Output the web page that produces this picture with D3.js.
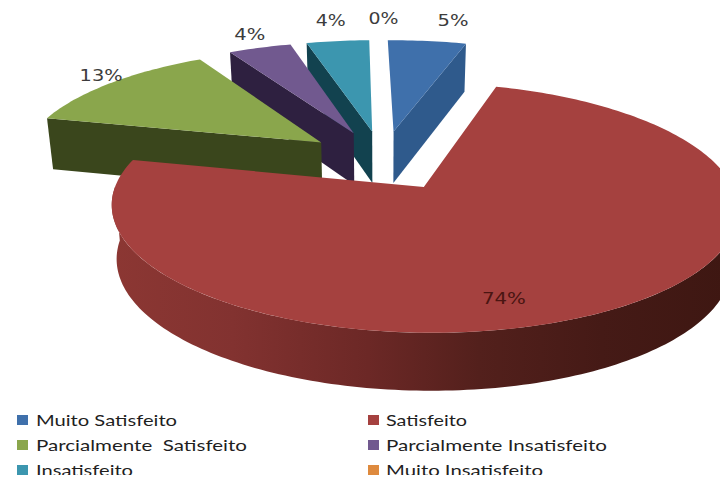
<!DOCTYPE html>
<html lang="pt">
<head>
<meta charset="utf-8">
<title>Satisfação</title>
<script src="https://cdn.jsdelivr.net/npm/d3@7/dist/d3.min.js"></script>
<style>
  html, body { margin: 0; padding: 0; background: #fff; overflow: hidden; }
  svg { display: block; }
</style>
</head>
<body>
<svg id="chart" width="720" height="478"></svg>
<script>
// Survey results
const categories = ["Muito Satisfeito", "Satisfeito", "Parcialmente  Satisfeito",
                    "Parcialmente Insatisfeito", "Insatisfeito", "Muito Insatisfeito"];
const values = [5, 74, 13, 4, 4, 0];

// Colours: top face, side face
const topColors  = ["#3f70ab", "#a5413f", "#8aa64c", "#71598f", "#3c96af", "#de8a3e"];
const sideColors = ["#2f5a8c", "#7c2f2c", "#3a461c", "#2e2040", "#12424f", "#8a5020"];

// Label offsets from each slice's outer midpoint, and widths of drawn text
const labelNudge = [[26, -20], [-106, -12], [-10, -7], [-10, -13], [-7, -20], [6, -21]];
const labelWidth = [31, 44, 43, 31, 30, 30];

// Slice radius in disc units
const sliceRadius = [1, 0.985, 1, 1, 1, 1];

// Tilted pie: disc coordinates (unit radius) to screen, with perspective
const W = 720, H = 478;
const view = { cx: 383, cy: 160, A: 302, B: 114.5, k: 0.162 };
const firstAngle = -1 * Math.PI / 180;
const explode = 0.262;
const depth = { size: 52.6, k: 0.077 };
const baseShrink = 0.982;

function project(X, Y) {
  const den = 1 + view.k * Y;
  return [view.cx + view.A * X / den, view.cy - view.B * Y / den];
}
function projectBase(X, Y) {
  const [x, y] = project(X, Y);
  return [view.cx + (x - view.cx) * baseShrink, y + depth.size / (1 + depth.k * Y)];
}

const TAU = 2 * Math.PI;
const pie = d3.pie().sort(null).value(d => d)
  .startAngle(firstAngle).endAngle(firstAngle + TAU)(values);

const slices = pie.map((p, i) => {
  const mid = (p.startAngle + p.endAngle) / 2;
  const ox = explode * Math.sin(mid), oy = explode * Math.cos(mid);
  const r = sliceRadius[i];
  const disc = (t, a) => [ox + t * r * Math.sin(a), oy + t * r * Math.cos(a)];
  return { i, a0: p.startAngle, a1: p.endAngle, mid, disc, value: p.value };
});

const line = d3.line();
function arcPts(s, from, to, fn) {
  const n = Math.max(2, Math.ceil((to - from) / 0.02));
  return d3.range(n + 1).map(j => {
    const a = from + (to - from) * j / n;
    return fn(...s.disc(1, a));
  });
}

const svg = d3.select("#chart");
const defs = svg.append("defs");

// Outer wall of the large slice darkens from left to right
const rimGrad = defs.append("linearGradient")
  .attr("id", "rim").attr("gradientUnits", "userSpaceOnUse")
  .attr("x1", 110).attr("x2", 725).attr("y1", 0).attr("y2", 0);
[[0, "#8c3733"], [0.2, "#823230"], [0.42, "#6c2826"], [0.6, "#53201c"], [0.8, "#451a16"], [1, "#3e1712"]]
  .forEach(([o, c]) => rimGrad.append("stop").attr("offset", o).attr("stop-color", c));

defs.append("clipPath").attr("id", "page")
  .append("rect").attr("width", W).attr("height", 475);

const pieLayer = svg.append("g");

// Far slices first, so that nearer ones cover them
const order = slices.filter(s => s.value > 0)
  .sort((a, b) => project(...a.disc(0, 0))[1] - project(...b.disc(0, 0))[1]);

const HALF = TAU / 4;
order.forEach(s => {
  const g = pieLayer.append("g").attr("class", "slice");
  const faces = [];
  // Radial wall facing the viewer
  if (s.a0 > 3 * HALF) faces.push(s.a0);
  if (s.a1 < HALF) faces.push(s.a1);
  faces.forEach(a => {
    const pts = [project(...s.disc(0, 0)), project(...s.disc(1, a)),
                 projectBase(...s.disc(1, a)), projectBase(...s.disc(0, 0))];
    g.append("path").attr("d", line(pts) + "Z").attr("fill", sideColors[s.i]);
  });
  // Outer wall, where the arc runs along the front half
  const r0 = Math.max(s.a0, HALF), r1 = Math.min(s.a1, 3 * HALF);
  if (r1 > r0) {
    const pts = arcPts(s, r0, r1, project).concat(arcPts(s, r0, r1, projectBase).reverse());
    g.append("path").attr("d", line(pts) + "Z").attr("fill", "url(#rim)");
  }
  // Top face
  const top = [project(...s.disc(0, 0))].concat(arcPts(s, s.a0, s.a1, project));
  g.append("path").attr("d", line(top) + "Z").attr("fill", topColors[s.i]);
});

// Percentage labels
const labels = svg.append("g");
slices.forEach(s => {
  const [x, y] = project(...s.disc(1, s.mid));
  const [nx, ny] = labelNudge[s.i];
  labels.append("text")
    .attr("x", x + nx - labelWidth[s.i] / 2).attr("y", y + ny)
    .attr("dy", "0.36em")
    .attr("font-family", "'DejaVu Sans', sans-serif")
    .attr("font-size", 15)
    .attr("fill", s.i === 1 ? "#4a1512" : "#3c3c3c")
    .attr("textLength", labelWidth[s.i])
    .attr("lengthAdjust", "spacingAndGlyphs")
    .text(s.value + "%");
});

// Legend in two columns, its last row cut by the lower border
const legendX = [[17, 36], [368, 386]];
const legendY = [420, 445, 470];
const legendWidth = [141, 81, 211, 221, 97, 157];
const legend = svg.append("g").attr("clip-path", "url(#page)");
categories.forEach((name, i) => {
  const [sx, tx] = legendX[i % 2];
  const y = legendY[Math.floor(i / 2)];
  legend.append("rect").attr("x", sx).attr("y", y - 5).attr("width", 11).attr("height", 10)
    .attr("fill", topColors[i]);
  legend.append("text").attr("x", tx).attr("y", y).attr("dy", "0.36em")
    .attr("font-family", "Lato, sans-serif").attr("font-size", 16)
    .attr("fill", "#1f1f1f")
    .attr("textLength", legendWidth[i]).attr("lengthAdjust", "spacingAndGlyphs")
    .style("white-space", "pre")
    .text(name);
});
</script>
</body>
</html>
